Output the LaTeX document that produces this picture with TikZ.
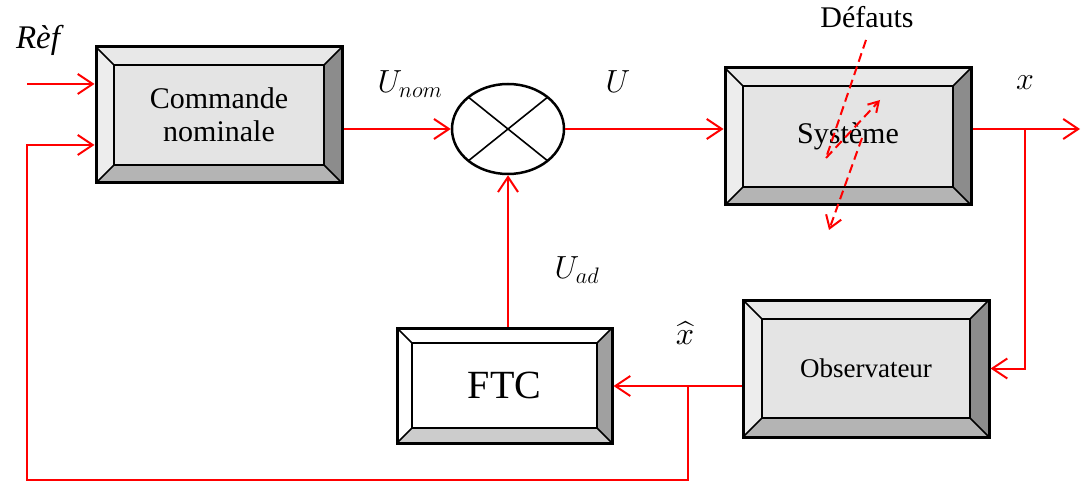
\RequirePackage{fix-cm}
\documentclass[tikz,border=0pt]{standalone}
\usepackage{fontspec}
\setmainfont{Liberation Serif}
\usetikzlibrary{arrows.meta,shapes.geometric,calc}
\definecolor{btop}{HTML}{E8E8E8}
\definecolor{bleft}{HTML}{EDEDED}
\definecolor{bright}{HTML}{8C8C8C}
\definecolor{bbot}{HTML}{B4B4B4}
\definecolor{bface}{HTML}{E4E4E4}
\definecolor{wright}{HTML}{A0A0A0}
\definecolor{wbot}{HTML}{CCCCCC}
\tikzset{
  bevsize/.store in=\bevsize, bevsize=18pt,
  bevelbox/.style n args={5}{draw=black, line width=3pt, inner sep=0pt,
    text=black,
    path picture={
      \coordinate (pnw) at (path picture bounding box.north west);
      \coordinate (pne) at (path picture bounding box.north east);
      \coordinate (psw) at (path picture bounding box.south west);
      \coordinate (pse) at (path picture bounding box.south east);
      \coordinate (inw) at ([shift={(\bevsize,-\bevsize)}]pnw);
      \coordinate (ine) at ([shift={(-\bevsize,-\bevsize)}]pne);
      \coordinate (isw) at ([shift={(\bevsize,\bevsize)}]psw);
      \coordinate (ise) at ([shift={(-\bevsize,\bevsize)}]pse);
      \fill[fill=#1] (pnw) -- (pne) -- (ine) -- (inw) -- cycle;
      \fill[fill=#2] (pnw) -- (inw) -- (isw) -- (psw) -- cycle;
      \fill[fill=#3] (pne) -- (ine) -- (ise) -- (pse) -- cycle;
      \fill[fill=#4] (psw) -- (isw) -- (ise) -- (pse) -- cycle;
      \fill[fill=#5] (inw) rectangle (ise);
      \draw[line width=1.6pt] (pnw) -- (inw) (pne) -- (ine) (psw) -- (isw) (pse) -- (ise);
      \draw[line width=1.6pt] (inw) rectangle (ise);
    }},
  graybox/.style={bevelbox={btop}{bleft}{bright}{bbot}{bface}},
  whitebox/.style={bevelbox={white}{white}{wright}{wbot}{white}},
  sig/.style={draw=red, line width=2pt, -{Straight Barb[length=15pt,width=20pt]}},
  fault/.style={draw=red, line width=2pt, dash pattern=on 9pt off 5pt},
  lbl/.style={text=black, inner sep=0pt},
  mlbl/.style={text=black, inner sep=0pt, font=\fontsize{32}{38}\selectfont},
}
\begin{document}
\begin{tikzpicture}[x=1pt,y=-1pt]
\useasboundingbox (0,0) rectangle (1081,486);

% boxes
\node[graybox, minimum width=246pt, minimum height=136pt, align=center,
      font=\fontsize{30}{33}\selectfont] (cn) at (219,115) {Commande\\nominale};
\node[graybox, minimum width=246pt, minimum height=137pt,
      font=\fontsize{30}{33}\selectfont] (sys) at (848,136.5) {Système};
\node[graybox, bevsize=19pt, minimum width=246pt, minimum height=137pt,
      font=\fontsize{27}{30}\selectfont] (obs) at (866,368.5) {Observateur};
\node[whitebox, bevsize=15pt, minimum width=215pt, minimum height=115pt,
      font=\fontsize{40}{44}\selectfont] (ftc) at (504.5,385.5) {FTC};

% multiplier
\node[ellipse, draw=black, line width=2.5pt, minimum width=112pt, minimum height=90pt,
      inner sep=0pt] (e) at (508,129) {};
\draw[line width=1.6pt] ([shift={(-39.6pt,31.8pt)}]e.center) -- ([shift={(39.6pt,-31.8pt)}]e.center);
\draw[line width=1.6pt] ([shift={(39.6pt,31.8pt)}]e.center) -- ([shift={(-39.6pt,-31.8pt)}]e.center);

% coordinates
\coordinate (r1) at (27,84);
\coordinate (in2) at (27,145);
\coordinate (lb) at (27,480);
\coordinate (out) at (1080,129);
\coordinate (br) at (1025,129);
\coordinate (b2) at (688,386);

% connectors
\draw[sig] (r1) -- (r1 -| cn.west);
\draw[sig] (b2) |- (lb) |- (in2 -| cn.west);
\draw[sig] (cn.east |- e.west) -- (e.west);
\draw[sig] (e.east) -- (e.east -| sys.west);
\draw[sig] (sys.east |- out) -- (out);
\draw[sig] (br) |- (obs.east);
\draw[sig] (obs.west |- b2) -- (ftc.east |- b2);
\draw[sig] (e.south |- ftc.north) -- (e.south);

% fault symbol
\coordinate (f1) at (866,40);
\coordinate (f2) at (826,158);
\coordinate (f3) at (880,100);
\coordinate (f4) at (862,138);
\coordinate (f5) at (829,230);
\draw[fault] (f1) -- (f2);
\draw[fault, -{Straight Barb[length=10pt,width=12pt]}] (f2) -- (f3);
\draw[fault, -{Straight Barb[length=12pt,width=16pt]}] (f4) -- (f5);

% labels
\node[lbl, font=\fontsize{30}{36}\selectfont] (def) at (867,17) {Défauts};
\node[lbl, font=\fontsize{33}{38}\selectfont\itshape] (lref) at (38,40) {Rèf};
\node[mlbl] (lunom) at (410,84) {$U_{nom}$};
\node[mlbl] (lu) at (618,82) {$U$};
\node[mlbl] (lx) at (1025,83) {$x$};
\node[mlbl] (luad) at (577,270) {$U_{ad}$};
\node[text=black, inner sep=0pt, font=\fontsize{10.67}{13}\selectfont,
      scale=3, transform shape] (lxh) at (685,333) {$\widehat{x}$};
\end{tikzpicture}
\end{document}
